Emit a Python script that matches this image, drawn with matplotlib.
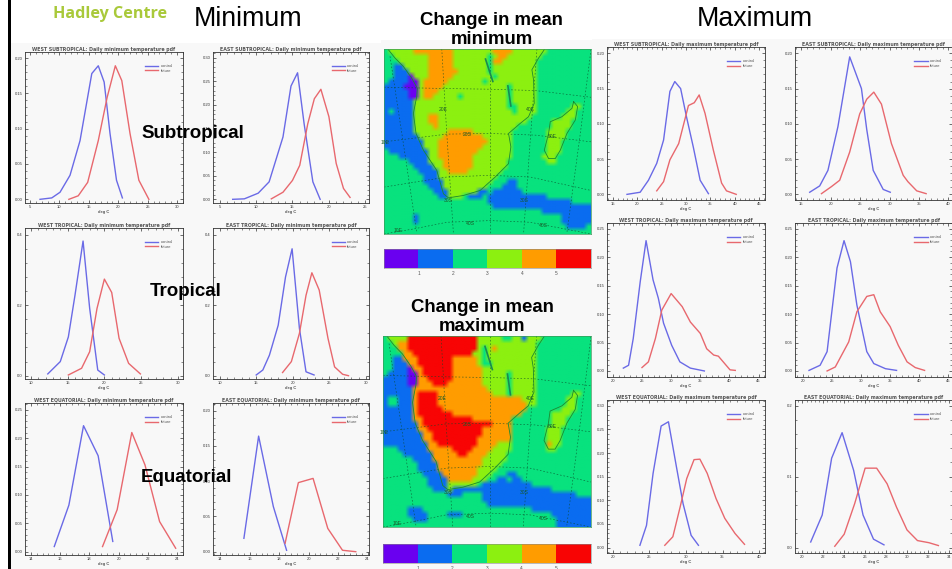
import numpy as np
import matplotlib
matplotlib.use('Agg')
import matplotlib.pyplot as plt
from matplotlib.patches import Rectangle
from matplotlib.ticker import AutoMinorLocator

W, H = 952, 569
plt.rcParams['font.family'] = ['Liberation Sans', 'DejaVu Sans']

# pdf curves (deg C, frequency)
ws_min_ctrl_x = [6.7, 8.7, 10.1, 11.8, 13.5, 15.5, 16.6, 17.6, 18.6, 19.7, 20.7]
ws_min_ctrl_y = [0.000, 0.002, 0.010, 0.034, 0.083, 0.178, 0.189, 0.166, 0.093, 0.027, 0.002]
ws_min_fut_x = [11.6, 13.2, 14.8, 16.6, 18.1, 19.5, 20.6, 22.0, 23.5, 25.2]
ws_min_fut_y = [0.000, 0.005, 0.024, 0.083, 0.144, 0.189, 0.168, 0.093, 0.027, 0.000]

es_min_ctrl_x = [6.8, 8.4, 10.3, 11.8, 13.7, 14.8, 15.7, 16.6, 17.8, 18.8]
es_min_ctrl_y = [0.000, 0.001, 0.013, 0.037, 0.132, 0.240, 0.268, 0.160, 0.037, 0.000]
es_min_fut_x = [12.1, 13.7, 15.0, 16.0, 17.1, 18.0, 18.9, 20.0, 21.0, 22.0, 22.9]
es_min_fut_y = [0.001, 0.015, 0.040, 0.072, 0.160, 0.213, 0.233, 0.175, 0.076, 0.023, 0.004]

wt_min_ctrl_x = [12.3, 14, 15.1, 16, 17.1, 18, 19.1, 20]
wt_min_ctrl_y = [0.005, 0.040, 0.110, 0.228, 0.382, 0.191, 0.016, 0.002]
wt_min_fut_x = [15.1, 16.9, 18, 19, 20, 21, 22, 23.3, 24.9]
wt_min_fut_y = [0.002, 0.021, 0.068, 0.191, 0.274, 0.236, 0.106, 0.035, 0.005]

et_min_ctrl_x = [15, 15.9, 16.8, 18, 19, 19.9, 20.9, 21.8, 22.9]
et_min_ctrl_y = [0.002, 0.016, 0.058, 0.143, 0.280, 0.360, 0.134, 0.011, 0.002]
et_min_fut_x = [18.6, 19.8, 20.9, 21.8, 22.6, 23.6, 24.8, 25.7, 26.8, 27.6]
et_min_fut_y = [0.009, 0.040, 0.120, 0.228, 0.292, 0.243, 0.106, 0.025, 0.004, 0.000]

we_min_ctrl_x = [15.6, 16.6, 17.6, 18.6, 19.6]
we_min_ctrl_y = [0.009, 0.082, 0.222, 0.169, 0.018]
we_min_fut_x = [18.9, 19.9, 20.9, 21.8, 22.8, 23.9]
we_min_fut_y = [0.009, 0.074, 0.210, 0.153, 0.053, 0.006]

ee_min_ctrl_x = [15.6, 16.6, 17.6, 18.5]
ee_min_ctrl_y = [0.019, 0.164, 0.064, 0.002]
ee_min_fut_x = [18.4, 19.3, 20.3, 21.3, 22.3, 23.2]
ee_min_fut_y = [0.012, 0.098, 0.104, 0.033, 0.002, 0.000]

ws_max_ctrl_x = [17.9, 20.6, 22.3, 24, 25.4, 26.7, 27.7, 28.9, 30.1, 31.5, 32.9, 34.6]
ws_max_ctrl_y = [0.000, 0.003, 0.020, 0.044, 0.077, 0.146, 0.160, 0.150, 0.110, 0.067, 0.020, 0.001]
ws_max_fut_x = [24, 25.4, 26.7, 28.5, 30.5, 31.7, 32.7, 33.9, 35.6, 37.3, 38.3, 40.3]
ws_max_fut_y = [0.005, 0.018, 0.049, 0.072, 0.126, 0.130, 0.141, 0.115, 0.063, 0.016, 0.005, 0.000]

es_max_ctrl_x = [16.4, 18.1, 19.5, 21.2, 23.2, 25.2, 26.1, 27.2, 28.9, 30.1]
es_max_ctrl_y = [0.003, 0.012, 0.034, 0.096, 0.195, 0.150, 0.092, 0.034, 0.007, 0.003]
es_max_fut_x = [18.4, 20.1, 21.5, 23.2, 24.9, 26.1, 27.3, 28.6, 30.3, 32.3, 33.1, 34.6, 36.2]
es_max_fut_y = [0.001, 0.011, 0.020, 0.060, 0.114, 0.135, 0.145, 0.128, 0.072, 0.027, 0.018, 0.005, 0.001]

wt_max_ctrl_x = [21.8, 22.7, 23.5, 24.7, 25.7, 26.9, 27.8, 28.7, 30.1, 31.5, 33.3, 35.7]
wt_max_ctrl_y = [0.005, 0.010, 0.057, 0.157, 0.229, 0.160, 0.128, 0.084, 0.045, 0.016, 0.005, 0.000]
wt_max_fut_x = [25, 26.1, 27.3, 28.4, 30, 31.9, 33.3, 35, 36.1, 37.3, 38.1, 40.1, 41]
wt_max_fut_y = [0.006, 0.016, 0.057, 0.107, 0.136, 0.113, 0.086, 0.066, 0.039, 0.028, 0.026, 0.002, 0.001]

et_max_ctrl_x = [21.1, 23, 24.2, 25.9, 27.1, 28.2, 29.3, 31, 32.2, 34.2, 36.1]
et_max_ctrl_y = [0.001, 0.010, 0.034, 0.181, 0.229, 0.192, 0.116, 0.034, 0.013, 0.004, 0.001]
et_max_fut_x = [24.2, 25.6, 27.9, 29.3, 31, 32.2, 33.3, 35, 36.4, 37.9, 39.3, 40.9]
et_max_fut_y = [0.000, 0.007, 0.051, 0.104, 0.131, 0.134, 0.104, 0.078, 0.045, 0.016, 0.006, 0.001]

we_max_ctrl_x = [23.7, 24.6, 25.5, 26.6, 27.6, 28.7, 29.6, 30.7, 31.7]
we_max_ctrl_y = [0.005, 0.047, 0.157, 0.257, 0.266, 0.170, 0.093, 0.026, 0.005]
we_max_fut_x = [27.1, 28.2, 29.2, 30.1, 31.1, 31.9, 32.9, 34.1, 35.3, 36.7, 38]
we_max_fut_y = [0.005, 0.023, 0.086, 0.146, 0.186, 0.187, 0.157, 0.104, 0.062, 0.030, 0.007]

ee_max_ctrl_x = [20.8, 21.9, 22.8, 23.8, 24.9, 25.8, 26.8, 27.8]
ee_max_ctrl_y = [0.008, 0.046, 0.126, 0.162, 0.109, 0.046, 0.012, 0.004]
ee_max_fut_x = [23.1, 24, 25, 26, 27.1, 28.1, 29, 30, 31, 32.1, 33]
ee_max_fut_y = [0.002, 0.019, 0.062, 0.112, 0.112, 0.090, 0.057, 0.025, 0.010, 0.007, 0.003]

# change classes, one row per line: "class:first-last" column spans over sea (class 2)
min_change_rows = [
    "3:1-32 4:6-13 4:22-25", "3:2-31 4:9-13 2:21 4:23-24", "3:3-30 4:9-13 2:21 4:22-23",
    "1:2-3 3:4-30 4:9-13 2:21", "1:2-4 3:5-30 4:9-14 2:21", "1:2-4 0:5 3:6-30 4:9-13 2:22",
    "1:1-4 0:5-6 3:7-30 4:8-12 2:20", "1:0-3 0:4-6 3:7-30 4:8-11 2:25",
    "1:0-4 0:5-6 3:7-30 4:8-10 2:25", "1:0-4 0:5-6 3:7-30 4:8-9 2:15 2:25",
    "1:0-5 3:6-30 2:25", "1:0-5 3:6-30 2:25-26 3:38-39", "1:0-5 2:1 3:6-30 2:26 3:37-38",
    "1:0-5 3:6-29 4:9-10 3:36-38", "1:0-5 3:6-28 4:9-10 3:34-37", "1:0-5 3:6-26 4:10 3:34-37",
    "1:0-5 3:6-25 4:13-17 3:33-36", "1:0-6 3:7-25 4:12-19 3:33-36",
    "1:0-7 3:8-25 4:11-20 3:33-35", "1:0-7 3:8-25 4:11-19 3:33-35",
    "1:1-8 3:9-25 4:11-18 3:33-35", "1:3-8 3:9-25 4:11-17 3:32-34",
    "1:5-8 3:9-24 4:12-17 3:33-34", "1:6-9 3:10-24 4:12-17", "1:7-10 3:11-23 4:13-16",
    "1:8-10 3:11-22", "1:8-11 3:12-21 1:25-26", "1:9-11 3:12-20 1:24-26",
    "1:10-12 3:13-18 1:19-20 1:22-27", "1:11-12 3:13-15 1:17-19 1:21-32", "1:21-37",
    "1:22-41", "1:32-41", "1:6 1:36-41", "1:6 1:36-41", "1:37-40", "",
]
max_change_rows = [
    "3:1-31 5:5-18 2:24-25 1:28", "3:2-30 4:3-4 5:5-18", "4:3-4 5:5-18 3:19-30 2:20 4:22",
    "4:4-5 5:6-17 3:18-30 2:20", "1:2-3 4:4-6 5:7-13 4:14-18 3:19-30 2:20",
    "1:2-4 4:5-6 5:7-13 4:14-18 3:19-30 2:20-21", "1:2-4 0:5 4:6-7 5:8-13 4:14-19 3:20-30",
    "1:1-4 0:5-6 4:7 5:8-13 4:14-19 3:20-30 2:25", "1:0-4 0:5-6 4:7-8 5:9-13 4:14-19 3:20-30 2:25",
    "1:0-4 0:5-6 4:7-9 5:10-12 4:13-19 3:20-30 2:25", "1:0-5 4:6-20 3:21-30 2:25",
    "1:0-5 4:6 5:7-10 4:11-21 3:22-30 2:25 3:38-39", "1:0 2:1-2 1:3-5 4:6 5:7-10 4:11-27 3:28-30 3:37-38",
    "1:0 2:1-2 1:3-5 4:6 5:7-10 4:11-28 3:29-30 3:37-38", "1:0-5 4:6 5:7-11 4:12-28 3:36-38",
    "1:0-5 4:6 5:7-13 4:14-27 3:34-37", "1:0-5 4:6-7 5:8-17 4:18-25 3:34-36",
    "1:0-6 4:7 5:8-21 4:22-25 3:34-36", "1:0-6 4:7-8 5:9-19 4:20-25 3:33-35",
    "1:0-7 4:8-9 5:10-19 4:20-25 3:33-35", "1:0-7 4:8-9 5:10-18 4:19-25 3:33-35",
    "1:0-8 4:9-10 5:11-18 4:19-22 3:23-25 4:33 3:34-35", "1:3-8 4:9-13 5:14-17 4:18-21 3:22-25 3:33-34",
    "1:4-9 4:10-14 5:15-16 4:17-20 3:21-24", "1:6-9 4:10-19 3:20-24", "1:7-10 4:11-19 3:20-23",
    "1:7-10 4:11-18 3:19-22", "1:8-11 4:12-18 3:19-21 1:25-26", "1:9-12 4:13-17 3:18-20 1:23-27 2:25",
    "1:9-12 3:13-18 1:20-29", "1:10-12 3:13 1:14-33", "1:13-15 1:20-38", "1:20-41", "1:21-41",
    "1:30-41 1:5-7", "1:5-8 1:13-15 1:34-41", "1:6-8 1:35-41", "1:35-41",
]
change_colors = ['#6a00f0', '#0a6cf0', '#08e27e', '#8cf010', '#ff9c00', '#f80404']
class_values = [0, 1, 2, 3, 4, 5]
class_ticks = [1, 2, 3, 4, 5]

# coast and grid
coast_x = [25, 45, 70, 95, 112, 110, 100, 108, 130, 170, 190, 205, 250, 300, 345, 385, 392, 385, 420, 445, 462, 460, 455, 475, 492]
coast_y = [150, 175, 200, 235, 265, 290, 340, 400, 450, 510, 580, 592, 585, 570, 530, 490, 440, 400, 370, 350, 310, 240, 210, 175, 150]
madagascar_x = [580, 592, 585, 560, 540, 525, 505, 492, 505, 510, 545, 575, 580]
madagascar_y = [305, 320, 360, 400, 450, 475, 475, 450, 400, 365, 350, 325, 305]
lake1_x, lake1_y = [316, 338], [178, 245]
lake2_x, lake2_y = [383, 392], [258, 318]
grid_lines = [
    ([12, 200, 330, 465, 632], [262, 266, 268, 272, 292]),
    ([12, 200, 330, 465, 632], [425, 402, 400, 405, 425]),
    ([12, 200, 330, 450, 632], [560, 530, 525, 530, 570]),
    ([12, 100, 200, 330, 450, 632], [700, 685, 665, 660, 665, 700]),
    ([330, 330], [148, 700]),
    ([185, 200, 220], [148, 400, 700]),
    ([30, 70, 110], [170, 430, 695]),
    ([470, 450, 430], [148, 420, 700]),
    ([632, 600, 560], [150, 400, 695]),
]
map_labels = [(188, 330, '20E'), (262, 403, '20S'), (450, 330, '40E'), (515, 410, '50E'),
              (205, 600, '30S'), (272, 670, '40S'), (490, 675, '40S'), (55, 690, '10E'),
              (432, 600, '30S'), (15, 427, '10E')]

ctrl_color = '#6a6ae6'
fut_color = '#e8686e'
ink = '#555555'


def px_axes(fig, x0, y0, x1, y1, **kw):
    return fig.add_axes([x0 / W, 1 - y1 / H, (x1 - x0) / W, (y1 - y0) / H], **kw)


def parse_rows(rows, ncols=42):
    grid = np.full((len(rows), ncols), 2)
    for r, row in enumerate(rows):
        for tok in row.split():
            c, span = tok.split(':')
            a, _, b = span.partition('-')
            grid[r, int(a):int(b or a) + 1] = int(c)
    return grid


def pdf_panel(fig, box, title, curves, xlim, ylim, xticks, yticks, yfmt='%.2f'):
    ax = px_axes(fig, *box)
    ax.set_facecolor('#f8f8f8')
    ax.plot(curves[0], curves[1], color=ctrl_color, lw=1.0, label='control')
    ax.plot(curves[2], curves[3], color=fut_color, lw=1.0, label='future')
    ax.set_xlim(xlim)
    ax.set_ylim(ylim)
    ax.set_xticks(xticks)
    ax.set_yticks(yticks)
    ax.set_yticklabels([yfmt % v for v in yticks])
    ax.xaxis.set_minor_locator(AutoMinorLocator(5))
    ax.yaxis.set_minor_locator(AutoMinorLocator(5))
    ax.tick_params(which='major', direction='in', top=True, right=True, length=2.5, width=0.5,
                   labelsize=3, pad=1.5, colors='#333333')
    ax.tick_params(which='minor', direction='in', top=True, right=True, length=1.2, width=0.4, colors='#333333')
    for s in ax.spines.values():
        s.set_linewidth(0.6)
        s.set_color('#333333')
    ax.set_xlabel('deg C', fontsize=3, labelpad=1, color=ink, fontweight='bold')
    ax.set_title(title, fontsize=3.4, pad=1, color=ink, fontweight='bold', family='DejaVu Sans')
    ax.legend(loc='upper left', bbox_to_anchor=(0.76, 0.92), frameon=False, fontsize=3,
              handlelength=3.2, labelspacing=0.2, handletextpad=0.5, borderpad=0, borderaxespad=0,
              labelcolor=ink)
    return ax


def change_map(fig, box, rows):
    ax = px_axes(fig, *box)
    grid = parse_rows(rows)
    rgb = np.array([matplotlib.colors.to_rgb(c) for c in change_colors])[grid]
    ax.imshow(rgb, extent=(12, 632, 700, 148), aspect='auto', interpolation='bilinear')
    for xs, ys in grid_lines:
        ax.plot(xs, ys, color='#0a4a28', lw=0.45, dashes=(2.5, 3), alpha=0.8)
    ax.plot(coast_x, coast_y, color='#1a8a30', lw=0.6)
    ax.plot(madagascar_x, madagascar_y, color='#1a8a30', lw=0.6)
    ax.plot(lake1_x, lake1_y, color='#1a8a50', lw=1.2)
    ax.plot(lake2_x, lake2_y, color='#1a8a50', lw=1.2)
    for x, y, s in map_labels:
        ax.text(x, y, s, fontsize=3.6, color='#1a5a28', ha='center', va='center')
    ax.set_xlim(12, 632)
    ax.set_ylim(700, 148)
    ax.set_xticks([])
    ax.set_yticks([])
    for s in ax.spines.values():
        s.set_linewidth(0.5)
        s.set_color('#3a9a5a')
    return ax


def colour_bar(fig, box):
    ax = px_axes(fig, *box)
    ax.imshow(np.array([class_values]), extent=(0, 6, 0, 1), aspect='auto',
              cmap=matplotlib.colors.ListedColormap(change_colors), vmin=0, vmax=5, interpolation='nearest')
    ax.set_xticks(class_ticks)
    ax.set_yticks([])
    ax.tick_params(length=0, labelsize=3.5, pad=2, colors=ink)
    for s in ax.spines.values():
        s.set_linewidth(0.4)
        s.set_color('#888888')


fig = plt.figure(figsize=(W / 100, H / 100), dpi=100, facecolor='white')

# page background strips and the black slide edge
for (x0, y0, x1, y1), col in [((11, 43, 381, 569), '#f8f8f8'), ((381, 40, 592, 569), '#f8f8f8'),
                              ((592, 39, 952, 569), '#f8f8f8'), ((8, 0, 11, 569), 'black')]:
    fig.add_artist(Rectangle((x0 / W, 1 - y1 / H), (x1 - x0) / W, (y1 - y0) / H,
                             transform=fig.transFigure, facecolor=col, edgecolor='none', zorder=-1))

t5 = [5, 10, 15, 20, 25, 30]
t10 = [10, 15, 20, 25, 30]
pdf_panel(fig, (25, 52, 183, 203), 'WEST SUBTROPICAL: Daily minimum temperature pdf',
          (ws_min_ctrl_x, ws_min_ctrl_y, ws_min_fut_x, ws_min_fut_y), (4.15, 31.0), (-0.0052, 0.2085),
          t5, [0, 0.05, 0.10, 0.15, 0.20])
pdf_panel(fig, (213, 52, 369, 203), 'EAST SUBTROPICAL: Daily minimum temperature pdf',
          (es_min_ctrl_x, es_min_ctrl_y, es_min_fut_x, es_min_fut_y), (4.1, 25.5), (-0.0078, 0.312),
          [5, 10, 15, 20, 25], [0, 0.05, 0.10, 0.15, 0.20, 0.25, 0.30])
pdf_panel(fig, (25, 228, 183, 379), 'WEST TROPICAL: Daily minimum temperature pdf',
          (wt_min_ctrl_x, wt_min_ctrl_y, wt_min_fut_x, wt_min_fut_y), (9.2, 30.7), (-0.0094, 0.419),
          t10, [0, 0.2, 0.4], yfmt='%.1f')
pdf_panel(fig, (213, 228, 369, 379), 'EAST TROPICAL: Daily minimum temperature pdf',
          (et_min_ctrl_x, et_min_ctrl_y, et_min_fut_x, et_min_fut_y), (9.1, 30.4), (-0.0094, 0.419),
          t10, [0, 0.2, 0.4], yfmt='%.1f')
pdf_panel(fig, (25, 403, 183, 555), 'WEST EQUATORIAL: Daily minimum temperature pdf',
          (we_min_ctrl_x, we_min_ctrl_y, we_min_fut_x, we_min_fut_y), (13.6, 24.4), (-0.0059, 0.262),
          [14, 16, 18, 20, 22, 24], [0, 0.05, 0.10, 0.15, 0.20, 0.25])
pdf_panel(fig, (213, 403, 369, 555), 'EAST EQUATORIAL: Daily minimum temperature pdf',
          (ee_min_ctrl_x, ee_min_ctrl_y, ee_min_fut_x, ee_min_fut_y), (13.5, 24.1), (-0.0047, 0.211),
          [14, 16, 18, 20, 22, 24], [0, 0.05, 0.10, 0.15, 0.20])

pdf_panel(fig, (607, 47, 765, 200), 'WEST SUBTROPICAL: Daily maximum temperature pdf',
          (ws_max_ctrl_x, ws_max_ctrl_y, ws_max_fut_x, ws_max_fut_y), (13.8, 46.2), (-0.008, 0.209),
          [15, 20, 25, 30, 35, 40, 45], [0, 0.05, 0.10, 0.15, 0.20])
pdf_panel(fig, (795, 47, 952, 200), 'EAST SUBTROPICAL: Daily maximum temperature pdf',
          (es_max_ctrl_x, es_max_ctrl_y, es_max_fut_x, es_max_fut_y), (13.9, 40.6), (-0.008, 0.209),
          [15, 20, 25, 30, 35, 40], [0, 0.05, 0.10, 0.15, 0.20])
pdf_panel(fig, (607, 223, 765, 377), 'WEST TROPICAL: Daily maximum temperature pdf',
          (wt_max_ctrl_x, wt_max_ctrl_y, wt_max_fut_x, wt_max_fut_y), (19, 46.1), (-0.0106, 0.26),
          [20, 25, 30, 35, 40, 45], [0, 0.05, 0.10, 0.15, 0.20, 0.25])
pdf_panel(fig, (795, 223, 952, 377), 'EAST TROPICAL: Daily maximum temperature pdf',
          (et_max_ctrl_x, et_max_ctrl_y, et_max_fut_x, et_max_fut_y), (18.7, 45.6), (-0.0106, 0.26),
          [20, 25, 30, 35, 40, 45], [0, 0.05, 0.10, 0.15, 0.20, 0.25])
pdf_panel(fig, (607, 400, 765, 553), 'WEST EQUATORIAL: Daily maximum temperature pdf',
          (we_max_ctrl_x, we_max_ctrl_y, we_max_fut_x, we_max_fut_y), (19.2, 40.8), (-0.0113, 0.312),
          [20, 25, 30, 35, 40], [0, 0.05, 0.10, 0.15, 0.20, 0.25, 0.30])
pdf_panel(fig, (795, 400, 952, 553), 'EAST EQUATORIAL: Daily maximum temperature pdf',
          (ee_max_ctrl_x, ee_max_ctrl_y, ee_max_fut_x, ee_max_fut_y), (19.3, 34.3), (-0.0075, 0.208),
          [20, 22, 24, 26, 28, 30, 32, 34], [0, 0.1, 0.2], yfmt='%.1f')

change_map(fig, (384, 49, 591, 234), min_change_rows)
colour_bar(fig, (384, 249, 591, 268))
change_map(fig, (383, 336, 591, 527), max_change_rows)
colour_bar(fig, (383, 544, 591, 563))


def label(x, y, s, **kw):
    fig.text(x / W, 1 - y / H, s, ha='center', va='center', zorder=10, **kw)


label(248, 19, 'Minimum', fontsize=19.3)
label(755, 19, 'Maximum', fontsize=19.3)
label(192.5, 133, 'Subtropical', fontsize=13.5, fontweight='bold')
label(186, 292, 'Tropical', fontsize=13.5, fontweight='bold')
label(187, 477, 'Equatorial', fontsize=13.5, fontweight='bold')
label(491.5, 30, 'Change in mean\nminimum', fontsize=13.4, fontweight='bold', linespacing=1.08)
label(482.5, 317, 'Change in mean\nmaximum', fontsize=13.4, fontweight='bold', linespacing=1.08)
label(110, 14, 'Hadley Centre', fontsize=11.6, fontweight='bold', color='#a9c93a', family='Open Sans')
label(110, -6, 'Met Office', fontsize=12, fontweight='bold', color='#222222', family='Open Sans')

fig.savefig('out.png', dpi=100)
